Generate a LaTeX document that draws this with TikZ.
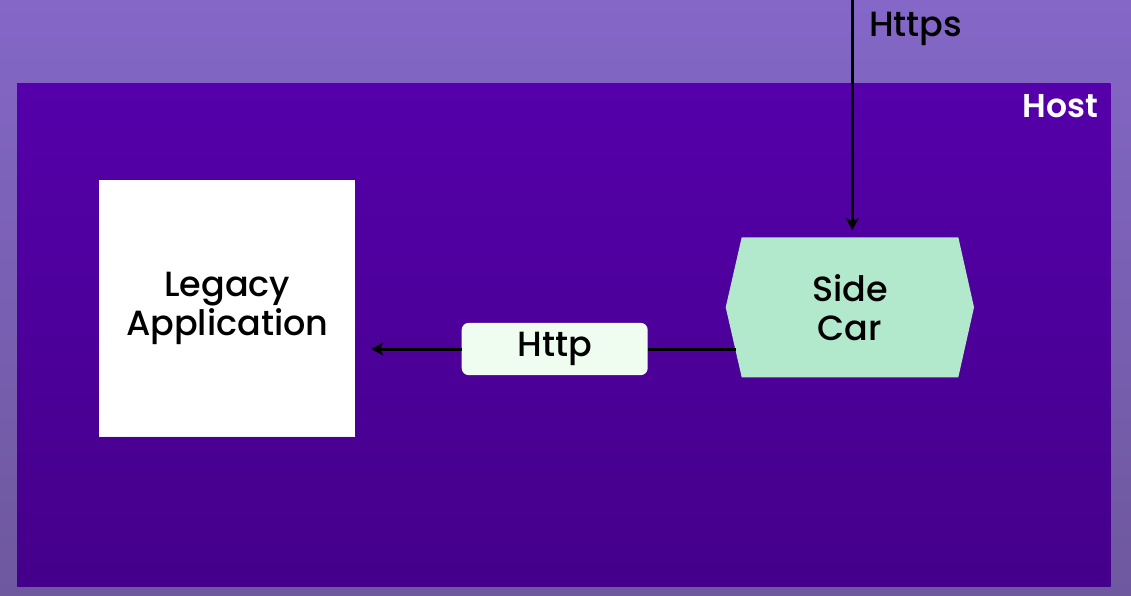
\documentclass[tikz,border=0pt]{standalone}
\usepackage{fontspec}
\setmainfont{Poppins Medium}[BoldFont={Poppins SemiBold}]
\usetikzlibrary{arrows.meta,calc}
\definecolor{bgtop}{HTML}{8467C7}
\definecolor{bgbot}{HTML}{6E589E}
\definecolor{hosttop}{HTML}{5500AA}
\definecolor{hostbot}{HTML}{44008A}
\definecolor{scgreen}{HTML}{B2E8CC}
\definecolor{httpfill}{HTML}{EFFDF1}
\tikzset{
  txt/.style={font=\fontsize{35}{39}\selectfont, text=black, align=center},
  hostbox/.style={rectangle, inner sep=0pt, minimum width=1093.7pt, minimum height=502.7pt,
    top color=hosttop, middle color=hosttop, bottom color=hostbot},
  legacybox/.style={txt, rectangle, inner sep=0pt, minimum width=255.7pt, minimum height=256.7pt,
    fill=white,
    path picture={\shade[top color=white, bottom color=black!6]
      ([yshift=-36pt]path picture bounding box.south west) rectangle (path picture bounding box.south east);}},
  httpbox/.style={txt, rectangle, rounded corners=7pt, fill=httpfill, inner sep=0pt,
    minimum width=186pt, minimum height=52.3pt},
  sidecar/.style={txt, rectangle, inner sep=0pt, minimum width=248.3pt, minimum height=140pt,
    path picture={\fill[scgreen]
      ([xshift=16pt]path picture bounding box.north west) --
      ([xshift=-15.7pt]path picture bounding box.north east) --
      ($(path picture bounding box.north east)!0.5!(path picture bounding box.south east)$) --
      ([xshift=-15.7pt]path picture bounding box.south east) --
      ([xshift=16pt]path picture bounding box.south west) --
      ($(path picture bounding box.north west)!0.5!(path picture bounding box.south west)$) -- cycle;}},
  conn/.style={line width=3pt, black},
  tip/.style={-{Stealth[length=12pt,width=13pt,inset=3pt]}}
}
\begin{document}
\begin{tikzpicture}[x=1pt,y=-1pt]
\useasboundingbox (0,0) rectangle (1131,596);
\shade[top color=bgtop,bottom color=bgbot] (0,0) rectangle (1131,596);
\node[hostbox] (host) at (563.85,334.65) {};
\node[anchor=base east, text=white, font=\bfseries\fontsize{33}{39}\selectfont] (hostlabel) at (1101.5,117.7) {Host};
\node[legacybox] (legacy) at (227.2,308.3) {Legacy\\Application};
\node[sidecar] (sc) at (849.85,307.3) {Side\\Car};
\node[httpbox] (http) at (554.7,349) {Http};
\coordinate (top) at (852.3,0);
\node[anchor=base west, txt] (httpslabel) at (865.5,36.7) {Https};
\draw[conn] ([xshift=10pt]sc.west |- http.east) -- (http.east);
\draw[conn,tip] (http.west) -- ([xshift=16pt]legacy.east |- http.west);
\draw[conn,tip,shorten >=7pt] (top) -- (top |- sc.north);
\end{tikzpicture}
\end{document}
